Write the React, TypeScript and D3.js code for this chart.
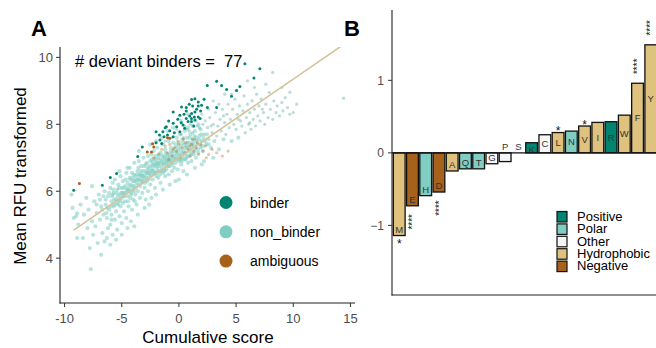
import React from "react";
import * as d3 from "d3";

// ---------- Panel A data ----------
const xTicksA = [-10, -5, 0, 5, 10, 15];
const yTicksA = [4, 6, 8, 10];
const fitIntercept = 7.0;
const fitSlope = 0.235;
const fitRange = [-9.2, 16];

const nonBinder: [number, number][] = [
  [-9.3,5.5],[-9.0,5.25],[-8.8,5.0],[-8.6,5.6],[-8.4,4.6],[-8.3,5.3],[-8.1,5.8],[-8.0,4.9],[-7.9,5.45],[-7.8,4.3],
  [-7.7,3.67],[-7.6,5.1],[-7.5,4.7],[-7.4,5.7],[-7.3,4.95],[-7.2,5.35],[-7.1,4.45],[-7.0,5.9],[-6.9,5.15],[-6.8,4.1],
  [-6.8,5.55],[-6.7,4.75],[-6.6,5.3],[-6.5,6.0],[-6.5,4.5],[-9.4,5.9],[-8.9,5.34],[-9.2,5.2],[-8.9,4.6],[-7.6,6.15],
  [-6.4,5.6],[-6.3,5.2],[-6.2,5.85],[-6.2,4.9],[-6.1,5.45],[-6.0,6.1],[-6.0,5.0],[-5.9,5.7],[-5.9,5.3],[-5.8,6.25],
  [-5.8,4.7],[-5.7,5.55],[-5.7,5.95],[-5.6,5.15],[-5.6,6.35],[-5.5,5.75],[-5.5,5.4],[-5.4,6.05],[-5.4,4.85],[-5.3,5.6],
  [-5.3,6.2],[-5.2,5.9],[-5.2,5.25],[-5.1,6.45],[-5.1,5.55],[-5.0,5.8],[-5.0,6.1],[-5.0,5.05],[-4.9,5.65],[-4.9,6.3],
  [-4.8,5.95],[-4.8,5.4],[-4.7,6.15],[-4.7,5.7],[-4.6,6.55],[-4.6,5.2],[-4.5,5.85],[-4.5,6.25],[-6.0,4.4],[-5.5,4.55],
  [-5.0,4.7],[-4.5,4.9],[-6.3,4.6],[-5.85,5.85],[-5.65,5.75],[-5.35,5.85],[-5.15,5.7],[-4.95,5.95],[-4.75,5.85],[-4.55,6.05],
  [-4.4,6.0],[-4.4,5.55],[-4.3,6.4],[-4.3,6.7],[-4.2,5.9],[-4.2,6.2],[-4.1,5.45],[-4.1,6.55],[-4.0,6.05],[-4.0,6.3],
  [-4.0,5.75],[-3.9,6.85],[-3.9,6.15],[-3.8,5.9],[-3.8,6.45],[-3.7,6.25],[-3.7,5.6],[-3.6,6.6],[-3.6,6.0],[-3.5,6.35],
  [-3.5,6.9],[-3.4,6.15],[-3.4,5.8],[-3.3,6.5],[-3.3,6.75],[-3.2,6.25],[-3.2,5.95],[-3.1,6.6],[-3.1,7.0],[-3.0,6.4],
  [-3.0,6.1],[-2.9,6.8],[-2.9,5.75],[-2.8,6.55],[-2.8,6.3],[-2.7,7.05],[-2.7,6.0],[-2.6,6.65],[-2.6,6.45],[-2.5,6.9],
  [-2.5,6.2],[-4.2,5.1],[-3.6,5.3],[-3.0,5.5],[-2.6,5.6],[-3.9,4.95],[-4.35,6.15],[-4.05,6.4],[-3.75,6.35],[-3.45,6.5],
  [-3.15,6.45],[-2.85,6.6],[-3.95,6.0],[-3.55,6.2],[-3.25,6.35],[-2.95,6.25],[-4.25,5.8],[-3.85,5.7],[-2.55,6.55],[-2.75,6.7],
  [-2.4,6.6],[-2.4,7.1],[-2.3,6.35],[-2.3,6.85],[-2.2,6.5],[-2.2,7.2],[-2.1,6.75],[-2.1,6.1],[-2.0,6.95],[-2.0,6.55],
  [-1.9,7.3],[-1.9,6.7],[-1.8,6.4],[-1.8,7.0],[-1.7,6.85],[-1.7,6.6],[-1.6,7.15],[-1.6,6.25],[-1.5,6.9],[-1.5,6.7],
  [-1.4,7.4],[-1.4,6.55],[-1.3,7.05],[-1.3,6.8],[-1.2,6.45],[-1.2,7.25],[-1.1,6.95],[-1.1,6.65],[-1.0,7.1],[-1.0,6.85],
  [-0.9,7.5],[-0.9,6.5],[-0.8,7.0],[-0.8,6.75],[-0.7,7.3],[-0.7,6.9],[-0.6,6.6],[-0.6,7.15],[-0.5,6.95],[-0.5,7.45],
  [-2.0,5.9],[-1.4,6.05],[-0.8,6.2],[-2.4,5.8],[-2.35,6.75],[-2.05,6.8],[-1.75,6.75],[-1.45,6.8],[-1.15,6.85],[-0.85,6.9],
  [-2.25,6.6],[-1.95,6.45],[-1.65,6.5],[-1.35,6.95],[-1.05,6.75],[-0.75,7.1],[-0.55,6.8],[-2.15,6.95],[-1.85,6.85],[-1.25,6.6],
  [-0.4,7.05],[-0.4,6.7],[-0.3,7.3],[-0.3,6.85],[-0.2,7.6],[-0.2,7.0],[-0.1,6.65],[-0.1,7.2],[0.0,7.45],[0.0,6.9],
  [0.1,7.1],[0.1,7.7],[0.2,6.8],[0.2,7.35],[0.3,7.0],[0.3,7.55],[0.4,7.2],[0.4,6.6],[0.5,7.4],[0.5,7.8],
  [0.6,6.95],[0.6,7.15],[0.7,7.6],[0.7,7.3],[0.8,6.85],[0.8,7.9],[0.9,7.45],[0.9,7.05],[1.0,7.7],[1.0,7.25],
  [1.1,6.9],[1.2,7.55],[1.2,7.95],[1.3,7.1],[1.3,7.35],[1.4,7.8],[1.5,7.0],[1.5,7.6],[1.6,7.4],[1.7,8.0],
  [1.7,7.15],[1.8,7.65],[1.9,7.3],[1.9,7.85],[2.0,7.5],[0.0,6.35],[0.7,6.5],[1.4,6.7],[-0.3,6.3],[2.0,6.8],
  [-0.15,6.95],[0.15,6.95],[0.45,6.95],[0.75,7.05],[1.05,7.1],[1.35,7.2],[-0.25,7.15],[0.25,7.15],[0.65,7.35],[1.15,7.4],
  [-2.5,7.4],[-2.0,7.5],[-1.5,7.6],[-3.5,7.2],[-1.0,7.8],[-0.5,7.9],[0.2,8.1],[0.8,8.3],[-4.5,6.7],[-5.2,6.6],
  [2.1,7.2],[2.4,7.4],[2.8,7.3],[3.1,7.5],[3.5,7.25],[3.9,7.55],[4.6,7.5],[5.2,7.6],[2.2,6.9],[3.0,7.0],
  [-6.4,5.75],[-6.25,5.5],[-6.1,5.95],[-5.95,5.55],[-5.8,5.9],[-5.75,6.05],[-5.6,5.6],[-5.45,5.95],[-5.4,5.65],[-5.25,6.1],
  [-5.2,5.75],[-5.05,5.95],[-4.9,5.85],[-4.85,6.1],[-4.7,5.95],[-4.65,6.35],[-4.5,6.05],[-4.45,5.7],[-4.3,6.05],[-4.25,6.35],
  [-4.15,5.95],[-4.05,6.15],[-3.95,6.5],[-3.9,6.3],[-3.75,6.1],[-3.7,6.5],[-3.6,6.35],[-3.55,6.7],[-3.45,6.45],[-3.35,6.3],
  [-3.3,6.6],[-3.2,6.45],[-3.1,6.3],[-3.05,6.75],[-2.95,6.5],[-2.85,6.4],[-2.8,6.85],[-2.7,6.55],[-2.65,6.35],[-2.55,6.75],
  [-2.45,6.5],[-2.35,6.95],[-2.3,6.65],[-2.2,6.8],[-2.1,6.55],[-2.05,7.05],[-1.95,6.85],[-1.9,6.6],[-1.8,6.8],[-1.7,7.1],
  [-1.65,6.95],[-1.55,6.6],[-1.45,7.05],[-1.4,6.85],[-1.3,6.65],[-1.2,7.0],[-1.15,7.15],[-1.05,6.9],[-0.95,7.05],[-0.9,6.75],
  [-0.8,6.95],[-0.7,7.2],[-0.65,6.85],[-0.55,7.05],[-0.45,7.2],[-0.35,6.95],[-0.25,7.4],[-0.15,7.1],[-0.05,7.3],[0.05,7.05],
  [0.15,7.25],[0.25,6.9],[0.35,7.45],[0.45,7.1],[0.55,7.3],[0.65,7.0],[0.75,7.45],[0.85,7.2],[0.95,7.6],[1.05,7.35],
  [1.15,7.15],[1.25,7.45],[1.35,7.65],[1.45,7.3],[1.55,7.5],[1.65,7.25],[1.75,7.55],[1.85,7.4],[1.95,7.7],[2.05,7.35],
  [2.15,7.6],[2.3,7.5],[2.45,7.7],[2.6,7.4],[-6.9,5.75],[-6.6,5.85],[-7.2,5.6],[-6.7,5.45],[-6.35,5.35],[-5.9,5.15],
];

const binderFaint: [number, number][] = [
  [2.2,7.7],[2.3,8.1],[2.5,7.9],[2.6,7.55],[2.7,8.2],[2.9,7.75],[3.0,8.0],[3.2,8.35],[3.3,7.65],[3.4,7.95],
  [3.6,8.15],[3.7,7.8],[3.8,8.45],[4.0,8.05],[4.1,7.7],[4.2,8.3],[4.3,8.6],[4.4,7.9],[4.5,8.15],[4.7,8.45],
  [4.8,8.0],[4.9,8.75],[5.0,7.85],[5.1,8.3],[5.3,8.55],[5.4,8.1],[5.5,7.95],[5.6,8.4],[5.7,8.85],[5.8,7.75],
  [5.9,8.2],[6.0,8.6],[6.1,8.0],[6.2,8.35],[6.3,7.85],[6.4,8.7],[6.5,8.15],[6.6,8.45],[6.7,7.95],[6.8,8.9],
  [6.9,8.25],[7.0,8.55],[7.1,8.1],[7.2,8.75],[7.4,8.35],[7.5,8.0],[7.6,8.6],[7.8,8.2],[7.9,8.95],[8.0,8.45],
  [8.2,8.15],[8.3,8.7],[8.5,8.35],[8.6,8.55],[8.8,8.25],[9.0,8.65],[9.1,8.4],[9.3,8.8],[9.5,8.5],[9.7,8.3],
  [10.0,8.35],[10.3,8.6],[8.2,9.55],[7.6,9.2],[9.0,9.1],[6.0,9.3],[4.0,8.9],[5.0,9.0],[14.4,8.78],[9.7,8.96],
  [1.0,8.0],[1.5,8.1],[2.0,8.3],[0.5,7.95],[1.8,7.9],[2.6,8.45],[3.5,8.6],[4.6,8.9],[6.6,9.1],[3.0,8.7],
  [0.2,7.7],[0.7,7.85],[1.2,7.75],[1.6,7.95],[2.1,8.0],[2.8,7.95],[3.9,8.25],[5.2,8.15],[6.2,8.05],[7.3,8.45],
  [-0.6,7.6],[-0.2,7.85],[0.4,7.6],[1.4,7.55],[-1.2,7.5],[0.9,7.8],
];

const ambiguousFaint: [number, number][] = [
  [-1.8,7.1],[-1.5,7.25],[-1.2,7.35],[-1.0,7.15],[-0.8,7.4],[-0.6,7.05],[-0.4,7.3],[-0.2,7.2],[0.0,7.4],[0.1,7.0],
  [0.3,7.3],[0.5,7.15],[0.6,7.45],[0.8,7.25],[1.0,7.05],[1.1,7.4],[1.3,7.2],[1.5,7.3],[1.7,7.1],[1.9,7.4],
  [2.1,7.2],[2.3,7.35],[2.6,7.1],[2.9,7.25],[3.3,7.15],[3.8,7.05],[4.3,7.2],[-2.2,7.0],[-0.9,6.95],[0.4,7.55],
  [1.2,7.55],[2.4,7.0],[-0.1,7.5],[0.9,7.35],[1.6,7.45],[-0.5,7.25],
];

const binderDeviant: [number, number][] = [
  [5.77,9.81],[7.08,9.66],[6.56,9.38],[3.3,9.29],[2.48,9.16],[3.73,9.16],[4.17,9.04],[5.04,9.01],[5.33,9.13],[4.6,8.84],
  [1.11,8.74],[1.4,8.76],[1.69,8.67],[1.98,8.57],[0.23,8.52],[-0.5,8.37],[0.64,8.5],[1.2,8.55],[1.69,8.55],[2.49,8.5],
  [3.3,8.5],[0.64,8.4],[1.11,8.32],[1.4,8.37],[0.08,8.27],[0.64,8.17],[1.1,8.17],[1.35,8.22],[1.69,8.22],[0.36,7.98],
  [0.8,8.08],[1.1,8.08],[1.4,8.13],[1.85,8.17],[-0.2,7.93],[-0.5,8.03],[-1.1,7.93],[-0.8,7.81],[-0.4,7.75],[-1.4,7.78],
  [-1.7,7.68],[-1.3,7.63],[-1.0,7.68],[-1.66,7.53],[-1.5,7.43],[-2.0,7.45],[-0.5,7.63],[0.08,7.78],[0.5,7.88],[-5.45,6.53],
  [-6.0,6.41],[-6.7,6.18],[-9.2,6.03],[-3.2,7.32],[-3.6,7.04],[-2.0,7.78],[0.9,8.6],[1.9,8.4],[-0.9,8.1],[1.3,7.95],
  [0.2,8.05],[-1.2,7.9],[2.2,8.75],[0.95,8.25],[1.55,8.45],[-0.1,8.15],[0.45,8.3],
];

const ambiguousDeviant: [number, number][] = [
  [-8.7,6.23],[-2.77,7.17],[-2.4,7.17],[-2.2,7.32],[-2.3,7.42],[-1.0,7.6],[-0.8,7.58],
];

const legendA = ["binder", "non_binder", "ambiguous"];
const legendAColors = ["#018571", "#80cdc1", "#a6611a"];

// ---------- Panel B data ----------
const aminoAcids = ["M","E","H","D","A","Q","T","G","P","S","K","C","L","N","V","I","R","W","F","Y"];
const aaValues = [-1.14,-0.73,-0.59,-0.54,-0.25,-0.22,-0.22,-0.15,-0.12,0.003,0.14,0.25,0.28,0.30,0.37,0.42,0.43,0.52,0.96,1.49];
const aaClass = ["Hydrophobic","Negative","Polar","Negative","Hydrophobic","Polar","Polar","Other","Other","Other","Positive","Other","Hydrophobic","Polar","Hydrophobic","Hydrophobic","Positive","Hydrophobic","Hydrophobic","Hydrophobic"];
const aaStars = ["*","****","","****","","","","","","","","","*","","*","","","","****","****"];
const classNames = ["Positive","Polar","Other","Hydrophobic","Negative"];
const classColors = ["#018571","#80cdc1","#f5f5f5","#dfc27d","#a6611a"];
const yTicksB = [-1, 0, 1];

const FONT = "'Liberation Sans', Arial, Helvetica, sans-serif";

export default function App() {
  const xA = d3.scaleLinear().domain([-10.4, 15.4]).range([60, 355]);
  const yA = d3.scaleLinear().domain([2.66, 10.31]).range([303, 47]);
  const line = d3.line<number>().x((d) => xA(d)).y((d) => yA(fitIntercept + fitSlope * d));

  const xB = d3.scaleBand<string>().domain(aminoAcids).range([392, 658]).paddingInner(0.11).paddingOuter(0.1);
  const yB = d3.scaleLinear().domain([-1.96, 1.97]).range([295, 10]);
  const colorB = d3.scaleOrdinal<string, string>().domain(classNames).range(classColors);

  const y0 = yB(0);

  return (
    <svg width={656} height={348} style={{ position: "absolute", left: 0, top: 0, fontFamily: FONT }}>
      <defs>
        <clipPath id="clipA">
          <rect x={60} y={47} width={300} height={256} />
        </clipPath>
      </defs>
      <g clipPath="url(#clipA)">
        {nonBinder.map((d, i) => (
          <circle key={"nb" + i} cx={xA(d[0])} cy={yA(d[1])} r={2.1} fill="#80cdc1" fillOpacity={0.55} />
        ))}
        {binderFaint.map((d, i) => (
          <circle key={"bf" + i} cx={xA(d[0])} cy={yA(d[1])} r={1.6} fill="#3a9d8c" fillOpacity={0.35} />
        ))}
        {ambiguousFaint.map((d, i) => (
          <circle key={"af" + i} cx={xA(d[0])} cy={yA(d[1])} r={1.6} fill="#a6611a" fillOpacity={0.35} />
        ))}
        <path d={line(fitRange) || ""} stroke="#d6c29a" strokeWidth={1.6} fill="none" />
        {binderDeviant.map((d, i) => (
          <circle key={"bd" + i} cx={xA(d[0])} cy={yA(d[1])} r={1.5} fill="#018571" />
        ))}
        {ambiguousDeviant.map((d, i) => (
          <circle key={"ad" + i} cx={xA(d[0])} cy={yA(d[1])} r={1.5} fill="#a6611a" />
        ))}
      </g>
      <line x1={60} x2={60} y1={47} y2={303.5} stroke="#222" strokeWidth={1.1} />
      <line x1={59.5} x2={355} y1={303} y2={303} stroke="#222" strokeWidth={1.1} />
      {xTicksA.map((t) => (
        <g key={"xt" + t}>
          <line x1={xA(t)} x2={xA(t)} y1={303} y2={307} stroke="#333" />
          <text x={xA(t)} y={323} textAnchor="middle" fontSize={13} fill="#4d4d4d">{t}</text>
        </g>
      ))}
      {yTicksA.map((t) => (
        <g key={"yt" + t}>
          <line x1={56} x2={60} y1={yA(t)} y2={yA(t)} stroke="#333" />
          <text x={53} y={yA(t) + 4.5} textAnchor="end" fontSize={13} fill="#4d4d4d">{t}</text>
        </g>
      ))}
      <text x={208} y={343} textAnchor="middle" fontSize={17} fill="#000">Cumulative score</text>
      <text transform="translate(26,176) rotate(-90)" textAnchor="middle" fontSize={17} fill="#000">Mean RFU transformed</text>
      <text x={75} y={67} fontSize={16.5} fill="#000" style={{ whiteSpace: "pre" }}>{"# deviant binders =  77"}</text>
      <text x={31} y={36} fontSize={22} fontWeight="bold" fill="#000">A</text>
      {legendA.map((name, i) => (
        <g key={"la" + name}>
          <circle cx={226} cy={202.5 + i * 29.3} r={6.5} fill={legendAColors[i]} />
          <text x={250} y={207.5 + i * 29.3} fontSize={14} fill="#000">{name}</text>
        </g>
      ))}

      <text x={344} y={36} fontSize={22} fontWeight="bold" fill="#000">B</text>
      {aminoAcids.map((aa, i) => {
        const v = aaValues[i];
        const x = xB(aa) as number;
        const w = xB.bandwidth();
        const top = Math.min(yB(v), y0);
        const h = Math.abs(yB(v) - y0);
        const cx = x + w / 2;
        let labelY: number;
        if (Math.abs(v) < 0.13) labelY = y0 - 6;
        else if (v > 0) labelY = Math.max(yB(v) + 6.5, (yB(v) + y0) / 2);
        else labelY = yB(v) - 6;
        const star = aaStars[i];
        const end = yB(v);
        return (
          <g key={"bar" + aa}>
            {h > 0.5 && (
              <rect x={x} y={top} width={w} height={h} fill={colorB(aaClass[i])} stroke="#111" strokeWidth={1.3} />
            )}
            <text x={cx} y={labelY + 3.4} textAnchor="middle" fontSize={9.5} fill="#333">{aa}</text>
            {star === "*" && (
              <text x={cx} y={v > 0 ? end + 2.5 : end + 12.5} textAnchor="middle" fontSize={12} fill="#111">*</text>
            )}
            {star === "****" && (
              <text
                transform={`translate(${cx + 3.6},${v > 0 ? end - 17 : end + 16}) rotate(-90)`}
                textAnchor="middle"
                fontSize={10}
                fill="#111"
              >
                ****
              </text>
            )}
          </g>
        );
      })}
      <line x1={392} x2={656} y1={y0} y2={y0} stroke="#111" strokeWidth={1.1} />
      <line x1={392} x2={392} y1={10} y2={295.5} stroke="#222" strokeWidth={1.1} />
      <line x1={391.5} x2={656} y1={295} y2={295} stroke="#222" strokeWidth={1.1} />
      {yTicksB.map((t) => (
        <g key={"ybt" + t}>
          <line x1={388} x2={392} y1={yB(t)} y2={yB(t)} stroke="#333" />
          <text x={384} y={yB(t) + 4.3} textAnchor="end" fontSize={12} fill="#4d4d4d">{t < 0 ? "\u2212" + Math.abs(t) : t}</text>
        </g>
      ))}
      {classNames.map((c, i) => (
        <g key={"lb" + c}>
          <rect x={557} y={211.5 + i * 12.4} width={10} height={10.5} fill={classColors[i]} stroke="#111" strokeWidth={1.2} />
          <text x={577} y={220.8 + i * 12.4} fontSize={13} fill="#000">{c}</text>
        </g>
      ))}
    </svg>
  );
}
